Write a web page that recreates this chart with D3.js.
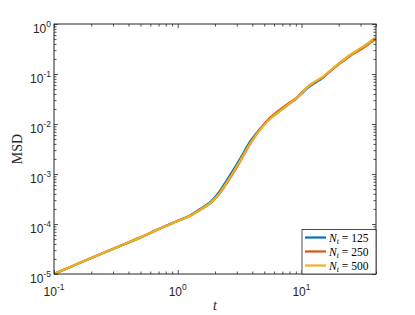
<!DOCTYPE html>
<html><head><meta charset="utf-8">
<script src="https://cdn.jsdelivr.net/npm/d3@7"></script>
<style>body{margin:0;background:#fff}svg{display:block}</style>
</head><body><svg id="c" width="415" height="315"></svg>
<script>
const tValues = [0.1, 0.2, 0.32, 0.5, 0.7, 1.0, 1.25, 1.5, 1.94, 2.2, 2.49, 2.8, 3.18, 3.5, 3.84, 4.2, 4.62, 5.56, 6.3, 7.13, 8.1, 9.14, 10.3, 11.7, 13.2, 14.9, 17, 19.3, 22, 24.7, 28, 31.6, 35, 40];
const msd125 = [1.0e-5, 2.1e-5, 3.4e-5, 5.4e-5, 7.9e-5, 1.16e-4, 1.47e-4, 1.95e-4, 3.15e-4, 4.65e-4, 7.45e-4, 1.18e-3, 2.0e-3, 3.0e-3, 4.45e-3, 6.0e-3, 8.0e-3, 1.29e-2, 1.63e-2, 2.05e-2, 2.6e-2, 3.25e-2, 4.3e-2, 5.7e-2, 6.9e-2, 8.5e-2, 0.114, 0.149, 0.192, 0.238, 0.29, 0.35, 0.42, 0.54];
const msd250 = [1.0e-5, 2.1e-5, 3.4e-5, 5.4e-5, 7.9e-5, 1.15e-4, 1.45e-4, 1.88e-4, 2.95e-4, 4.2e-4, 6.6e-4, 1.04e-3, 1.77e-3, 2.68e-3, 4.0e-3, 5.6e-3, 7.8e-3, 1.33e-2, 1.72e-2, 2.18e-2, 2.72e-2, 3.35e-2, 4.5e-2, 6.0e-2, 7.2e-2, 8.7e-2, 0.113, 0.146, 0.186, 0.229, 0.278, 0.335, 0.4, 0.5];
const msd500 = [1.0e-5, 2.1e-5, 3.4e-5, 5.4e-5, 7.9e-5, 1.15e-4, 1.45e-4, 1.9e-4, 3.0e-4, 4.3e-4, 6.8e-4, 1.07e-3, 1.82e-3, 2.75e-3, 4.07e-3, 5.6e-3, 7.6e-3, 1.26e-2, 1.62e-2, 2.06e-2, 2.6e-2, 3.27e-2, 4.4e-2, 6.0e-2, 7.3e-2, 8.8e-2, 0.116, 0.151, 0.194, 0.24, 0.292, 0.352, 0.42, 0.54];
const seriesLabels = ["125", "250", "500"];
const seriesColors = ["#0072BD", "#D95319", "#EDB120"];
const xTickExps = [-1, 0, 1];
const yTickExps = [-5, -4, -3, -2, -1, 0];
const xDomain = [0.1, 40];
const yDomain = [1e-5, 1];
const xLabel = "t";
const yLabel = "MSD";

const W = 415, H = 315;
const m = {l: 54, r: 39, t: 24, b: 41};
const svg = d3.select("#c");
const x = d3.scaleLog().domain(xDomain).range([m.l, W - m.r]);
const y = d3.scaleLog().domain(yDomain).range([H - m.b, m.t]);
const axCol = "#262626";

svg.append("defs").append("clipPath").attr("id", "clp")
  .append("rect").attr("x", m.l).attr("y", m.t).attr("width", W - m.l - m.r).attr("height", H - m.t - m.b);

const allSeries = [msd125, msd250, msd500];
const line = d3.line().x(d => x(d[0])).y(d => y(d[1])).curve(d3.curveMonotoneX);
const gLines = svg.append("g").attr("clip-path", "url(#clp)");
allSeries.forEach((s, i) => {
  gLines.append("path").datum(tValues.map((t, k) => [t, s[k]]))
    .attr("d", line).attr("fill", "none").attr("stroke", seriesColors[i])
    .attr("stroke-width", 2.2).attr("stroke-linejoin", "round");
});

// ticks
const isMajor = v => Math.abs(Math.log10(v) - Math.round(Math.log10(v))) < 1e-9;
function tickAxis(axisFn, scale, transform, size, filt) {
  const g = svg.append("g").attr("transform", transform)
    .call(axisFn(scale).tickValues(scale.ticks().filter(filt)).tickSize(size).tickFormat(""));
  g.select(".domain").remove();
  g.selectAll("line").attr("stroke", axCol).attr("stroke-width", 0.8);
}
const X0 = m.l, X1 = W - m.r, Y0 = H - m.b, Y1 = m.t;
[[isMajor, 4], [v => !isMajor(v), 2.5]].forEach(([f, s]) => {
  tickAxis(d3.axisBottom, x, `translate(0,${Y0})`, -s, f);
  tickAxis(d3.axisTop, x, `translate(0,${Y1})`, -s, f);
  tickAxis(d3.axisLeft, y, `translate(${X0},0)`, -s, f);
  tickAxis(d3.axisRight, y, `translate(${X1},0)`, -s, f);
});

svg.append("rect").attr("x", X0).attr("y", Y1).attr("width", X1 - X0).attr("height", Y0 - Y1)
  .attr("fill", "none").attr("stroke", axCol).attr("stroke-width", 1);

// tick labels
const lf = "'Liberation Sans', Arial, Helvetica, sans-serif";
xTickExps.forEach(e => {
  const t = svg.append("text").attr("x", x(Math.pow(10, e))).attr("y", Y0 + 22)
    .attr("text-anchor", "middle").attr("font-family", lf).attr("font-size", 12).attr("fill", axCol);
  t.append("tspan").text("10");
  t.append("tspan").attr("dy", -6).attr("font-size", 8.5).text(e < 0 ? "-" + (-e) : e);
});
yTickExps.forEach(e => {
  const t = svg.append("text").attr("x", X0 - 3).attr("y", y(Math.pow(10, e)) + 9)
    .attr("text-anchor", "end").attr("font-family", lf).attr("font-size", 12).attr("fill", axCol);
  t.append("tspan").text("10");
  t.append("tspan").attr("dy", -6).attr("font-size", 8.5).text(e < 0 ? "-" + (-e) : e);
});

const sf = "'Liberation Serif', 'Times New Roman', serif";
svg.append("text").attr("x", (X0 + X1) / 2).attr("y", 310).attr("text-anchor", "middle")
  .attr("font-family", sf).attr("font-style", "italic").attr("font-size", 14).attr("fill", axCol).text(xLabel);
svg.append("text").attr("transform", `translate(22,${(Y0 + Y1) / 2}) rotate(-90)`).attr("text-anchor", "middle")
  .attr("font-family", sf).attr("font-size", 14).attr("fill", axCol).text(yLabel);

// legend
const lg = svg.append("g");
lg.append("rect").attr("x", 302).attr("y", 229.5).attr("width", X1 - 302).attr("height", Y0 - 229.5)
  .attr("fill", "#fff").attr("stroke", axCol).attr("stroke-width", 0.8);
seriesLabels.forEach((lab, i) => {
  const yy = 237.5 + i * 14;
  lg.append("line").attr("x1", 305).attr("x2", 326).attr("y1", yy).attr("y2", yy)
    .attr("stroke", seriesColors[i]).attr("stroke-width", 2.2);
  const t = lg.append("text").attr("x", 329).attr("y", yy + 4).attr("font-family", sf)
    .attr("font-size", 11.5).attr("fill", "#000");
  t.append("tspan").attr("font-style", "italic").text("N");
  t.append("tspan").attr("font-style", "italic").attr("font-size", 8).attr("dy", 2.5).text("t");
  t.append("tspan").attr("dy", -2.5).text(" = " + lab);
});
</script></body></html>
